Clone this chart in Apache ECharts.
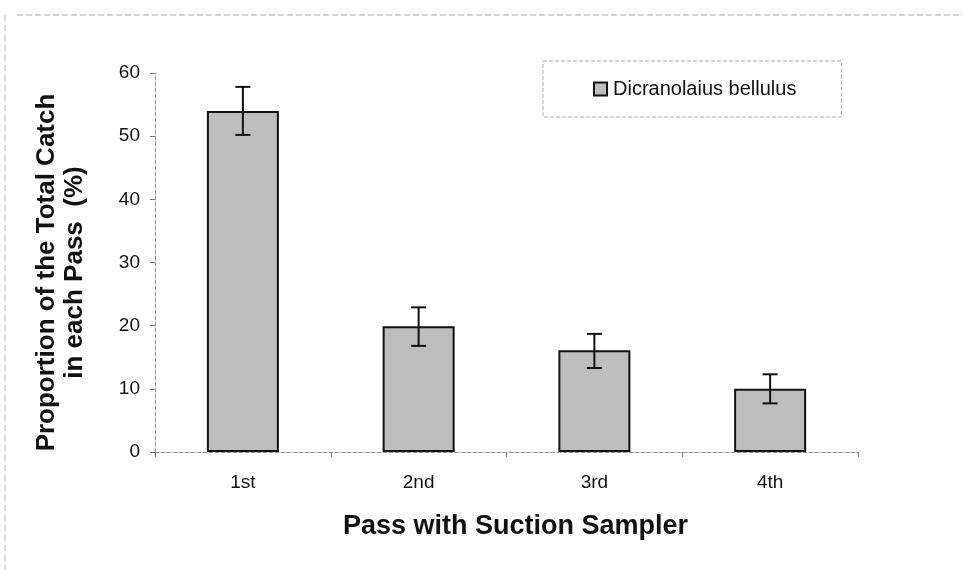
<!DOCTYPE html>
<html>
<head>
<meta charset="utf-8">
<script src="https://cdn.jsdelivr.net/npm/echarts@6/dist/echarts.min.js"></script>
<style>html,body{margin:0;padding:0;background:#fff;}#c{width:963px;height:570px;}</style>
</head>
<body>
<div id="c"></div>
<script>
const categories = ['1st', '2nd', '3rd', '4th'];
const proportion = [54.0, 19.9, 16.1, 10.0];
const errLow = [50.2, 16.8, 13.3, 7.7];
const errHigh = [57.8, 22.9, 18.7, 12.3];
const yTicks = [0, 10, 20, 30, 40, 50, 60];
const seriesName = 'Dicranolaius bellulus';

const chart = echarts.init(document.getElementById('c'));
const errData = categories.map((c, i) => [i, errLow[i], errHigh[i]]);
const font = 'Liberation Sans, Arial, sans-serif';

chart.setOption({
  animation: false,
  backgroundColor: '#fff',
  grid: {left: 155, right: 105, top: 73, bottom: 118},
  legend: {
    left: 543, top: 61,
    padding: [18, 45, 18, 50],
    borderColor: '#b0b0b0', borderWidth: 1, borderType: 'dashed',
    itemWidth: 13, itemHeight: 13, itemGap: 0,
    data: [{name: seriesName, icon: 'rect'}],
    textStyle: {fontFamily: font, fontSize: 20, color: '#111', padding: [0, 0, 0, 1]}
  },
  xAxis: {
    type: 'category', data: categories,
    axisLine: {lineStyle: {color: '#999', type: 'dashed', width: 1}},
    axisTick: {show: true, length: 5, lineStyle: {color: '#777'}},
    axisLabel: {fontFamily: font, fontSize: 19, color: '#111', margin: 21},
    name: 'Pass with Suction Sampler', nameLocation: 'middle', nameGap: 61,
    nameTextStyle: {fontFamily: font, fontSize: 27, fontWeight: 'bold', color: '#111', padding: [0, 0, 0, 18]}
  },
  yAxis: {
    type: 'value', min: 0, max: 60, interval: 10,
    axisLine: {show: true, lineStyle: {color: '#999', type: 'dashed', width: 1}},
    axisTick: {show: true, length: 5, lineStyle: {color: '#777'}},
    splitLine: {show: false},
    axisLabel: {fontFamily: font, fontSize: 19, color: '#111', margin: 15,
      formatter: v => yTicks.includes(v) ? String(v) : ''},
    name: 'Proportion of the Total Catch\nin each Pass  (%)', nameLocation: 'middle', nameGap: 66,
    nameTextStyle: {fontFamily: font, fontSize: 26, fontWeight: 'bold', color: '#111', lineHeight: 28, padding: [0, 20, 0, 0]}
  },
  series: [
    {
      name: seriesName, type: 'bar', data: proportion, barWidth: 72,
      itemStyle: {color: '#bdbdbd', borderColor: '#111', borderWidth: 2}
    },
    {
      type: 'custom', data: errData, z: 5,
      renderItem: function (params, api) {
        const x = api.value(0);
        const lo = api.coord([x, api.value(1)]);
        const hi = api.coord([x, api.value(2)]);
        const w = 7.5;
        const st = {stroke: '#111', lineWidth: 2};
        return {type: 'group', children: [
          {type: 'line', shape: {x1: lo[0], y1: lo[1], x2: hi[0], y2: hi[1]}, style: st},
          {type: 'line', shape: {x1: hi[0]-w, y1: hi[1], x2: hi[0]+w, y2: hi[1]}, style: st},
          {type: 'line', shape: {x1: lo[0]-w, y1: lo[1], x2: lo[0]+w, y2: lo[1]}, style: st}
        ]};
      }
    }
  ],
  graphic: [
    {type: 'line', shape: {x1: 17, y1: 15, x2: 963, y2: 15}, style: {stroke: '#aaa', lineWidth: 1, lineDash: [6, 3]}},
    {type: 'line', shape: {x1: 5, y1: 15, x2: 5, y2: 570}, style: {stroke: '#bbb', lineWidth: 1, lineDash: [6, 4]}}
  ]
});
</script>
</body>
</html>
